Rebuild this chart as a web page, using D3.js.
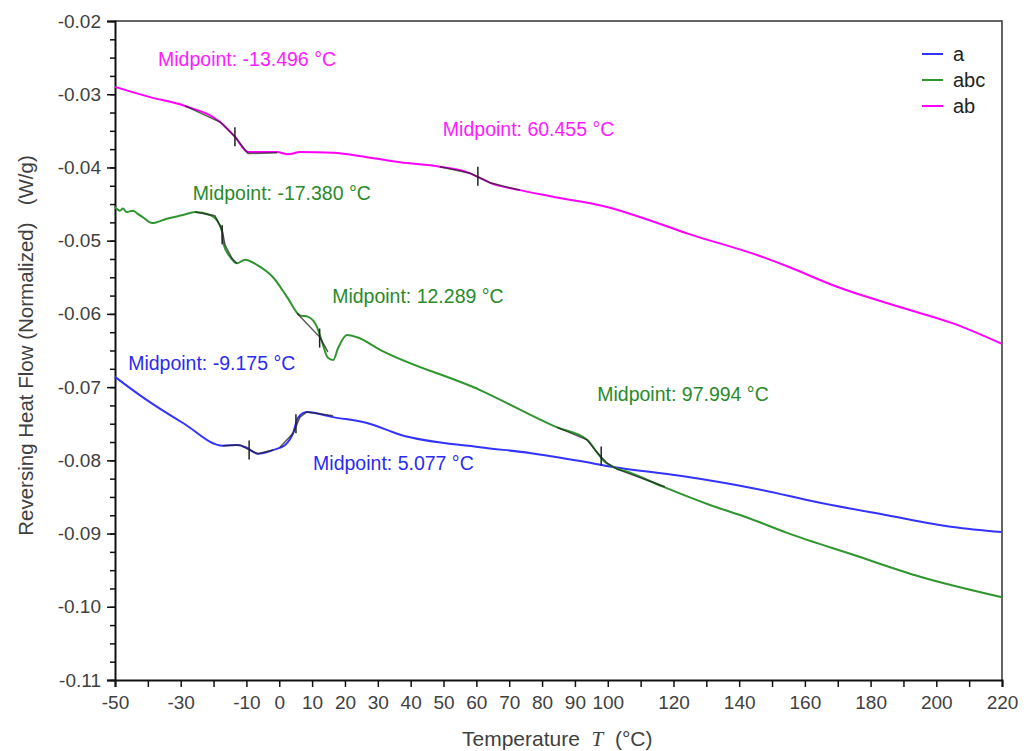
<!DOCTYPE html>
<html>
<head>
<meta charset="utf-8">
<script src="https://cdn.jsdelivr.net/npm/d3@7"></script>
<style>
  html, body { margin: 0; padding: 0; background: #fff; }
  svg { display: block; font-family: "Liberation Sans", Arial, sans-serif; }
</style>
</head>
<body>
<svg id="chart"></svg>
<script>
// reversing heat flow curves
const tA = [-50, -41.5, -29.3, -17.1, -12.9, -9.8, -6.5, -1.9, 1.8, 4.2, 5.7, 8.4, 16.4, 26.7, 36.8, 61.1, 76.3, 91.6, 101.6, 122.0, 144.2, 164.6, 185.0, 205.1, 220];
const vA = [-0.0686, -0.0714, -0.0749, -0.0780, -0.0779, -0.0783, -0.0791, -0.0786, -0.0779, -0.0763, -0.0742, -0.0734, -0.0741, -0.0749, -0.0765, -0.0782, -0.0790, -0.0801, -0.0809, -0.0821, -0.0838, -0.0858, -0.0875, -0.0891, -0.0898];

const tABC = [-50, -48.5, -47.6, -46.5, -44.5, -43.2, -41.5, -38.7, -34.2, -29.3, -25.6, -21.1, -19.0, -17.4, -17.1, -15.0, -12.9, -10.4, -6.8, -1.9, 2.4, 6.3, 8.8, 11.5, 13.0, 14.8, 16.4, 17.9, 20.6, 23.7, 30.7, 61.1, 84.6, 93.7, 96.7, 98.6, 101.6, 106.8, 116.8, 131.1, 142.4, 154.6, 174.7, 195.1, 220];
const vABC = [-0.0454, -0.0459, -0.0456, -0.0461, -0.0459, -0.0463, -0.0468, -0.0476, -0.0470, -0.0465, -0.0461, -0.0465, -0.0472, -0.0488, -0.0503, -0.0522, -0.0531, -0.0526, -0.0533, -0.0550, -0.0577, -0.0602, -0.0604, -0.0618, -0.0638, -0.0660, -0.0663, -0.0647, -0.0629, -0.0632, -0.0649, -0.0704, -0.0755, -0.0772, -0.0789, -0.0800, -0.0809, -0.0817, -0.0836, -0.0861, -0.0878, -0.0899, -0.0929, -0.0959, -0.0987];

const tAB = [-50, -39.3, -28.7, -18.0, -13.5, -9.5, -0.7, 2.7, 6.3, 16.4, 26.7, 36.8, 48.9, 58.1, 60.5, 64.2, 73.3, 83.3, 99.8, 112.0, 124.1, 146.3, 154.6, 169.8, 189.9, 205.1, 220];
const vAB = [-0.0290, -0.0304, -0.0316, -0.0338, -0.0358, -0.0379, -0.0379, -0.0382, -0.0379, -0.0380, -0.0386, -0.0393, -0.0399, -0.0408, -0.0413, -0.0421, -0.0431, -0.0440, -0.0454, -0.0471, -0.0490, -0.0521, -0.0535, -0.0563, -0.0592, -0.0613, -0.0641];

const seriesNames = ['a', 'abc', 'ab'];
const seriesColors = ['#3333ff', '#2f962f', '#ff00ff'];
const textColors = ['#2b2bf0', '#2a8a2a', '#ff1aff'];

// black tangent overlays from the analysis, [T, value]
const overlays = [
    [[-17.1, -0.0780], [-11.9, -0.0779], [-9.5, -0.0785], [-6.5, -0.0791], [-1.9, -0.0786]],
    [[0.2, -0.0782], [4.2, -0.0763], [6.3, -0.0741], [8.4, -0.0734], [16.4, -0.0739]],
    [[-25.6, -0.0461], [-19.6, -0.0466], [-17.4, -0.0485], [-16.5, -0.0506], [-14.4, -0.0524], [-12.9, -0.0531]],
    [[5.4, -0.0599], [12.4, -0.0632], [14.8, -0.0652]],
    [[84.6, -0.0755], [93.7, -0.0772], [96.7, -0.0789], [99.8, -0.0804], [102.8, -0.0812], [117.4, -0.0836]],
    [[-28.7, -0.0316], [-18.0, -0.0338], [-13.5, -0.0358], [-9.5, -0.0381], [-0.7, -0.0380]],
    [[48.9, -0.0399], [58.1, -0.0408], [60.5, -0.0413], [64.2, -0.0421], [73.3, -0.0431]],
];

// midpoints: series index, temperature, value at marker, label anchor
const midSeries = [0, 0, 1, 1, 1, 2, 2];
const midTemps = [-9.175, 5.077, -17.380, 12.289, 97.994, -13.496, 60.455];
const midValues = [-0.0786, -0.0750, -0.0492, -0.0633, -0.0794, -0.0358, -0.0412];
const labelT = [-46.0, 10.3, -26.3, 16.1, 96.8, -36.9, 49.8];
const labelV = [-0.0677, -0.0813, -0.0444, -0.0585, -0.0719, -0.0262, -0.0357];

const xTicks = d3.range(-50, 221, 10);
const xLabels = [-50, -30, -10, 0, 10, 20, 30, 40, 50, 60, 70, 80, 90, 100, 120, 140, 160, 180, 200, 220];
const yMajor = d3.range(-0.11, -0.0199, 0.01);
const yMinor = d3.range(-0.11, -0.0199, 0.0025);

const width = 1026;
const height = 751;
const plot = { left: 115, right: 1002, top: 21, bottom: 680 };

const svg = d3.select('#chart')
    .attr('width', width)
    .attr('height', height);

svg.append('rect')
    .attr('width', width)
    .attr('height', height)
    .attr('fill', '#fff');

const x = d3.scaleLinear().domain([-50, 220]).range([plot.left, plot.right]);
const y = d3.scaleLinear().domain([-0.11, -0.02]).range([plot.bottom, plot.top]);

// plain hyphen minus like the original software
const fmt = (digits) => (d) => d.toFixed(digits);

// frame top and right
svg.append('path')
    .attr('d', `M${plot.left},${plot.top}H${plot.right}V${plot.bottom}`)
    .attr('fill', 'none')
    .attr('stroke', '#333')
    .attr('stroke-width', 1.5);

const fontSize = '19px';
const axisColor = '#404040';

// x axis
const xAxis = svg.append('g')
    .attr('transform', `translate(0,${plot.bottom})`)
    .call(d3.axisBottom(x)
        .tickValues(xTicks)
        .tickSize(7)
        .tickPadding(9)
        .tickFormat((d) => (xLabels.includes(Math.round(d)) ? fmt(0)(d) : '')));
xAxis.select('.domain').attr('stroke', '#111').attr('stroke-width', 2);
xAxis.selectAll('.tick line').attr('stroke', '#111').attr('stroke-width', 1.5);
xAxis.selectAll('text')
    .attr('font-size', fontSize)
    .attr('font-family', '"Liberation Sans", Arial, sans-serif')
    .attr('fill', axisColor);

// y axis minor ticks
const yMinorAxis = svg.append('g')
    .attr('transform', `translate(${plot.left},0)`)
    .call(d3.axisLeft(y).tickValues(yMinor).tickSize(5).tickFormat(''));
yMinorAxis.select('.domain').remove();
yMinorAxis.selectAll('.tick line').attr('stroke', '#111').attr('stroke-width', 1.5);

const yAxis = svg.append('g')
    .attr('transform', `translate(${plot.left},0)`)
    .call(d3.axisLeft(y).tickValues(yMajor).tickSize(8).tickPadding(6).tickFormat(fmt(2)));
yAxis.select('.domain').attr('stroke', '#111').attr('stroke-width', 2);
yAxis.selectAll('.tick line').attr('stroke', '#111').attr('stroke-width', 1.5);
yAxis.selectAll('text')
    .attr('font-size', fontSize)
    .attr('font-family', '"Liberation Sans", Arial, sans-serif')
    .attr('fill', axisColor);

// axis titles
const xTitle = svg.append('text')
    .attr('x', 462)
    .attr('y', 746)
    .attr('font-size', '21px')
    .attr('fill', axisColor)
    .attr('xml:space', 'preserve');
xTitle.append('tspan').text('Temperature  ');
xTitle.append('tspan')
    .attr('font-family', '"Liberation Serif", "Times New Roman", serif')
    .attr('font-style', 'italic')
    .text('T');
xTitle.append('tspan').text('  (°C)');

svg.append('text')
    .attr('transform', `translate(33,${(plot.top + plot.bottom) / 2 - 5}) rotate(-90)`)
    .attr('text-anchor', 'middle')
    .attr('font-size', '20.5px')
    .attr('fill', axisColor)
    .attr('xml:space', 'preserve')
    .text('Reversing Heat Flow (Normalized)   (W/g)');

// curves
const line = d3.line()
    .x((d) => x(d[0]))
    .y((d) => y(d[1]))
    .curve(d3.curveMonotoneX);

const seriesData = [
    d3.zip(tA, vA),
    d3.zip(tABC, vABC),
    d3.zip(tAB, vAB),
];

svg.append('g')
    .selectAll('path')
    .data(seriesData)
    .enter()
    .append('path')
    .attr('d', line)
    .attr('fill', 'none')
    .attr('stroke', (d, i) => seriesColors[i])
    .attr('stroke-width', 2);

svg.append('g')
    .selectAll('path')
    .data(overlays)
    .enter()
    .append('path')
    .attr('d', d3.line().x((d) => x(d[0])).y((d) => y(d[1])))
    .attr('fill', 'none')
    .attr('stroke', '#222')
    .attr('stroke-opacity', 0.75)
    .attr('stroke-width', 1.5);

// midpoint markers
svg.append('g')
    .selectAll('line')
    .data(midTemps)
    .enter()
    .append('line')
    .attr('x1', (d) => x(d))
    .attr('x2', (d) => x(d))
    .attr('y1', (d, i) => y(midValues[i] + 0.0013))
    .attr('y2', (d, i) => y(midValues[i] - 0.0013))
    .attr('stroke', '#222')
    .attr('stroke-width', 1.5);

svg.append('g')
    .selectAll('text')
    .data(midTemps)
    .enter()
    .append('text')
    .attr('x', (d, i) => x(labelT[i]))
    .attr('y', (d, i) => y(labelV[i]))
    .attr('font-size', '19.5px')
    .attr('fill', (d, i) => textColors[midSeries[i]])
    .text((d) => `Midpoint: ${fmt(3)(d)} °C`);

// legend
const legend = svg.append('g')
    .selectAll('g')
    .data(seriesNames)
    .enter()
    .append('g')
    .attr('transform', (d, i) => `translate(922,${54 + i * 26})`);

legend.append('line')
    .attr('x2', 21)
    .attr('stroke', (d, i) => seriesColors[i])
    .attr('stroke-width', 2);

legend.append('text')
    .attr('x', 31)
    .attr('y', 7)
    .attr('font-size', '20px')
    .attr('fill', '#222')
    .text((d) => d);
</script>
</body>
</html>
